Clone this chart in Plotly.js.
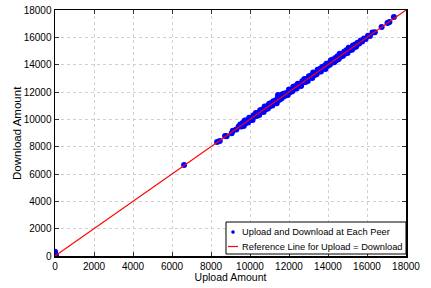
<!DOCTYPE html>
<html><head><meta charset="utf-8">
<script src="https://cdn.plot.ly/plotly-3.0.1.min.js"></script>
<style>body{margin:0;padding:0;background:#fff}#c{width:431px;height:288px}</style>
</head><body><div id="c"></div>
<script>
const seriesName = "Upload and Download at Each Peer";
const refName = "Reference Line for Upload = Download";
const xTitle = "Upload Amount";
const yTitle = "Download Amount";
const tickVals = [0,2000,4000,6000,8000,10000,12000,14000,16000,18000];

const uploadNearZero = [0,0,0,0,0,30,50];
const downloadNearZero = [0,80,160,240,320,120,40];

const uploadLow = [6620,8310,8450,8720,8800,9060,9120,9300,9420];
const downloadLow = [6660,8340,8420,8780,8760,8980,9160,9250,9480];

const uploadA = [9500,9560,9610,9680,9730,9790,9850,9900,9960,10020,10070,10130,10190,10240,10300,10350,10410,10470,10520,10580,10640,10700,10750,10810,10860,10920,10980,11040,11090,11150,11200,11260,11320,11370,11430,11490,11540,11600,11660,11710,11770,11830,11880,11940,12000,12050,12110,12170,12220,12280,12340,12390,12450,12510,12560,12620,12680,12730,12790,12850,12900,12960,13020,13070,13130,13190,13240,13300,13360,13410,13470,13530,13580,13640,13700,13750,13810,13870,13920,13980,14040,14090,14150,14210,14260,14320,14380,14430,14490,14550,14600,14660,14720,14770,14830,14890,14940,15000,15060,15110,15170,15230,15280,15340,15400,15450];
const downloadA = [9620,9470,9650,9520,9910,9770,9940,9770,10110,9960,10100,9950,10300,10200,10470,10240,10470,10320,10660,10570,10720,10530,10940,10740,10880,10800,11140,10990,11190,11010,11330,11230,11390,11180,11580,11410,11550,11500,11840,11650,11890,11740,11920,11780,12180,11980,12140,12050,12380,12230,12430,12260,12600,12450,12590,12440,12790,12690,12960,12740,12960,12810,13160,13060,13210,13020,13430,13230,13380,13290,13630,13480,13680,13500,13830,13720,13880,13680,14070,13900,14050,13990,14330,14150,14380,14180,14480,14330,14620,14420,14790,14590,14740,14650,14950,14810,15060,14860,15230,15050,15190,15100,15410,15260,15470,15330];

const uploadB = [9530,9640,9760,9870,9990,10100,10210,10330,10440,10550,10670,10780,10900,11010,11120,11230,11350,11460,11570,11690,11800,11910,12030,12140,12250,12370,12480,12590,12710,12820,12930,13050,13160,13270,13390,13500,13610,13730,13840,13950,14070,14180,14290,14410,14520,14630,14750,14860,14970,15090,15200,15310,15430];
const downloadB = [9560,9750,9700,9860,10060,10010,10250,10390,10410,10640,10620,10800,10980,10960,11170,11300,11330,11520,11540,11720,11850,11890,12090,12110,12300,12360,12540,12560,12740,12880,12900,13110,13140,13320,13370,13560,13590,13760,13900,13930,14130,14160,14340,14390,14580,14610,14780,14920,14950,15150,15180,15360,15410];

const uploadHigh = [11436,15520,15600,15680,15750,15850,15930,16050,16150,16280,16400,16750,17050,17150,17380];
const downloadHigh = [11780,15600,15540,15760,15700,15920,15880,16120,16100,16360,16380,16760,17050,17120,17480];

const refX = [0,18000];
const refY = [0,18000];

const xs = [].concat(uploadNearZero, uploadLow, uploadA, uploadB, uploadHigh);
const ys = [].concat(downloadNearZero, downloadLow, downloadA, downloadB, downloadHigh);

const fam = "Liberation Sans, Arial, sans-serif";
const font = {family:fam, size:10, color:"#000"};
const axisCommon = {
  range:[0,18000], tickvals:tickVals, ticktext:tickVals.map(String),
  showgrid:true, gridcolor:"#d0d0d0", griddash:"dot", gridwidth:1,
  zeroline:false, showline:true, linecolor:"#000", linewidth:1.5, mirror:"ticks",
  ticks:"inside", ticklen:4, tickcolor:"#333", tickfont:font
};

const data = [
  {x:xs, y:ys, type:"scatter", mode:"markers", name:seriesName, showlegend:false,
   marker:{color:"#0000ff", size:6, line:{width:0}}},
  {x:refX, y:refY, type:"scatter", mode:"lines", name:refName, showlegend:false,
   line:{color:"#ff0000", width:1.1}}
];

// legend drawn in paper coordinates (pixel-matched to the reference box)
const L = 55, W = 351, B = 256, H = 246;
const px = v => (v - L) / W;
const py = v => (B - v) / H;
const shapes = [
  {type:"rect", xref:"paper", yref:"paper", x0:px(226), x1:px(406), y0:py(254), y1:py(222),
   line:{color:"#000", width:1}, fillcolor:"#fff", layer:"above"},
  {type:"circle", xref:"paper", yref:"paper", x0:px(231.5), x1:px(234.5), y0:py(233.5), y1:py(230.5),
   line:{color:"#0000c0", width:0.5}, fillcolor:"#0000ff", layer:"above"},
  {type:"line", xref:"paper", yref:"paper", x0:px(228), x1:px(238), y0:py(246.5), y1:py(246.5),
   line:{color:"#ff0000", width:1.2}, layer:"above"}
];
const legFont = {family:fam, size:9.3, color:"#000"};
const annotations = [
  {xref:"paper", yref:"paper", x:px(240), y:py(232), xanchor:"left", yanchor:"middle",
   text:seriesName, showarrow:false, font:legFont},
  {xref:"paper", yref:"paper", x:px(240), y:py(246.5), xanchor:"left", yanchor:"middle",
   text:refName, showarrow:false, font:legFont},
  {xref:"paper", yref:"paper", x:px(17), y:py(133), xanchor:"center", yanchor:"middle",
   text:yTitle, textangle:-90, showarrow:false, font:{family:fam, size:11.5, color:"#000"}}
];

const layout = {
  width:431, height:288,
  margin:{l:55, r:25, t:10, b:32},
  paper_bgcolor:"#fff", plot_bgcolor:"#fff",
  font:font, showlegend:false,
  xaxis:Object.assign({}, axisCommon, {title:{text:xTitle, font:{family:fam, size:10.5, color:"#000"}, standoff:0}}),
  yaxis:Object.assign({}, axisCommon),
  shapes:shapes, annotations:annotations
};
Plotly.newPlot("c", data, layout, {displayModeBar:false, staticPlot:true});
</script></body></html>
